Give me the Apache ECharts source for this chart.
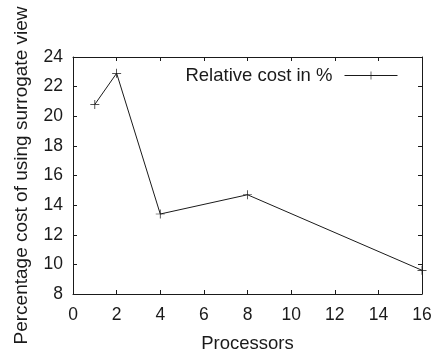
<!DOCTYPE html>
<html>
<head>
<meta charset="utf-8">
<script src="https://cdn.jsdelivr.net/npm/echarts@6/dist/echarts.min.js"></script>
<style>
  html, body { margin: 0; padding: 0; background: #fff; }
  #chart { width: 432px; height: 351px; }
</style>
</head>
<body>
<div id="chart"></div>
<script>
// data
const processors = [1, 2, 4, 8, 16];
const relativeCost = [20.8, 22.9, 13.4, 14.7, 9.6];
const seriesName = 'Relative cost in %';

const ink = '#1a1a1a';
const font = 'Liberation Sans, Arial, sans-serif';
// gnuplot style "+" marker
const plus = 'path://M0,4.6H10V5.4H0Z M4.6,0H5.4V10H4.6Z';

let chart = echarts.init(document.getElementById('chart'));

const tickStyle = { show: true, inside: true, length: 4, lineStyle: { color: ink, width: 1 } };
const lineStyle = { show: true, onZero: false, lineStyle: { color: ink, width: 1 } };

chart.setOption({
  animation: false,
  grid: { left: 73, right: 10, top: 57, bottom: 57, outerBoundsMode: 'none', containLabel: false },
  legend: {
    right: 29,
    top: 61,
    align: 'right',
    itemWidth: 53,
    itemHeight: 10,
    lineStyle: { width: 1 },
    textStyle: { fontFamily: font, fontSize: 18.5, color: ink, padding: [0, 7, 0, 0] },
    data: [seriesName]
  },
  xAxis: [
    {
      type: 'value', min: 0, max: 16, interval: 2,
      name: 'Processors', nameLocation: 'middle', nameGap: 40,
      nameTextStyle: { fontFamily: font, fontSize: 18.5, color: ink },
      axisLine: lineStyle, axisTick: tickStyle, splitLine: { show: false },
      axisLabel: { fontFamily: font, fontSize: 17.5, color: ink, margin: 12 }
    },
    {
      type: 'value', position: 'top', min: 0, max: 16, interval: 2,
      axisLine: lineStyle, axisTick: tickStyle, splitLine: { show: false },
      axisLabel: { show: false }
    }
  ],
  yAxis: [
    {
      type: 'value', min: 8, max: 24, interval: 2,
      name: 'Percentage cost of using surrogate view', nameLocation: 'middle', nameGap: 42,
      nameTextStyle: { fontFamily: font, fontSize: 19, color: ink },
      axisLine: lineStyle, axisTick: tickStyle, splitLine: { show: false },
      axisLabel: { fontFamily: font, fontSize: 17.5, color: ink, margin: 10 }
    },
    {
      type: 'value', position: 'right', min: 8, max: 24, interval: 2,
      axisLine: lineStyle, axisTick: tickStyle, splitLine: { show: false },
      axisLabel: { show: false }
    }
  ],
  series: [
    {
      name: seriesName,
      type: 'line',
      data: processors.map((p, i) => [p, relativeCost[i]]),
      symbol: plus,
      symbolSize: 9,
      showAllSymbol: true,
      lineStyle: { color: ink, width: 1 },
      itemStyle: { color: ink },
      emphasis: { disabled: true }
    }
  ]
});
</script>
</body>
</html>
